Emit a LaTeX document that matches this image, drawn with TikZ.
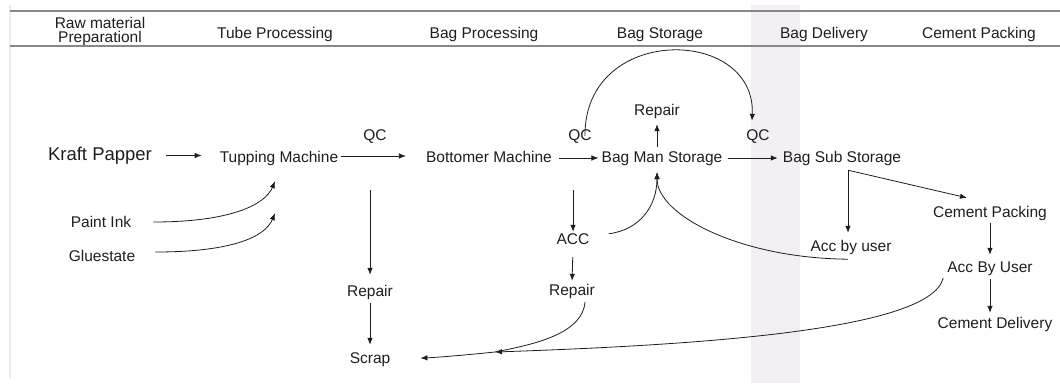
\documentclass[tikz,border=0pt]{standalone}
\usepackage{fontspec}
\setmainfont{Liberation Sans}
\usetikzlibrary{arrows.meta,calc}
\definecolor{bandpink}{RGB}{244,239,244}
\definecolor{rulegray}{RGB}{136,136,136}
\definecolor{edgegray}{RGB}{236,236,236}
\definecolor{ink}{RGB}{30,30,30}
\begin{document}
\begin{tikzpicture}[x=1pt,y=-1pt,
  lbl/.style={inner sep=0pt,anchor=base,text=ink,font=\fontsize{15.5}{18}\selectfont},
  big/.style={inner sep=0pt,anchor=base,text=ink,font=\fontsize{18.5}{22}\selectfont},
  arr/.style={draw=ink,line width=0.8pt,-{Latex[length=7pt,width=5.5pt]}},
  hrule/.style={draw=rulegray,line width=1.4pt}]
\useasboundingbox (0,0) rectangle (1060,383);
% background band and edges
\fill[bandpink] (751,5) rectangle (800,383);
\draw[edgegray,line width=1.4pt] (10,5) -- (10,378);
\draw[hrule] (10,11) -- (1060,11);
\draw[hrule] (10,46) -- (1060,46);
% header
\node[lbl,align=center,anchor=north,font=\fontsize{15.5}{14}\selectfont] (h1) at (100,17) {Raw material\\Preparationl};
\node[lbl] (h2) at (275,38) {Tube Processing};
\node[lbl] (h3) at (484,38) {Bag Processing};
\node[lbl] (h4) at (660,38) {Bag Storage};
\node[lbl] (h5) at (824,38) {Bag Delivery};
\node[lbl] (h6) at (979,38) {Cement Packing};
% nodes
\tikzset{lbl/.append style={text height=11pt,text depth=3pt}}
\node[big,text height=13pt,text depth=4pt] (kp) at (100,160) {Kraft Papper};
\node[lbl] (tm) at (279,162) {Tupping Machine};
\node[lbl] (qc1) at (375,140) {QC};
\node[lbl] (bm) at (489,162) {Bottomer Machine};
\node[lbl] (qc2) at (580,140) {QC};
\node[lbl] (bms) at (662,162) {Bag Man Storage};
\node[lbl] (rep0) at (657,115) {Repair};
\node[lbl] (qc3) at (758,140) {QC};
\node[lbl] (bss) at (842,162) {Bag Sub Storage};
\node[lbl] (pi) at (101,227) {Paint Ink};
\node[lbl] (gl) at (102,261) {Gluestate};
\node[lbl] (acc) at (573,244) {ACC};
\node[lbl] (rep1) at (370,296) {Repair};
\node[lbl] (rep2) at (572,295) {Repair};
\node[lbl] (scrap) at (370,363) {Scrap};
\node[lbl] (accu1) at (851,251) {Acc by user};
\node[lbl] (cp) at (990,217) {Cement Packing};
\node[lbl] (accu2) at (990,272) {Acc By User};
\node[lbl] (cd) at (995,328) {Cement Delivery};
% attachment points
\coordinate (tmin1) at ($(tm.south)+(-4,16)$);
\coordinate (tmin2) at ($(tm.south)+(-4,48)$);
\coordinate (bmsin) at ($(bms.south)+(-5,7)$);
\coordinate (bsout) at ($(bss.south)+(6,5)$);
\coordinate (j) at (495,352);
% main row
\draw[arr,shorten <=14pt,shorten >=18pt] (kp.east) -- (kp.east -| tm.west);
\draw[arr,shorten <=3pt,shorten >=20pt] ($(tm.east)+(0,-2)$) -- ($(tm.east -| bm.west)+(0,-2)$);
\draw[arr,shorten <=7pt,shorten >=3pt] (bm.east) -- (bms.west);
\draw[arr,shorten <=5pt,shorten >=5pt] (bms.east) -- (bss.west);
\draw[arr,shorten <=4pt,shorten >=6pt] (rep0.south |- bms.north) -- (rep0.south);
% arc QC -> QC
\draw[arr] ($(qc2.north)+(5,7)$) .. controls (584,24) and (756,26) .. ($(qc3.north)+(-6,-8)$);
% inputs
\draw[arr] ($(pi.east)+(22,-1)$) .. controls +(76,0) and +(-10,24) .. (tmin1);
\draw[arr] ($(gl.east)+(20,-5)$) .. controls +(76,0) and +(-10,24) .. (tmin2);
% downward branches
\draw[arr,shorten <=25pt,shorten >=10pt] (rep1.north |- tm.south) -- (rep1.north);
\draw[arr,shorten <=4pt,shorten >=7pt] (rep1.south) -- (scrap.north);
\draw[arr,shorten <=25pt,shorten >=1pt] (acc.north |- bm.south) -- (acc.north);
\draw[arr,shorten <=10pt,shorten >=3pt] (acc.south) -- (rep2.north);
% returns to Bag Man Storage
\draw[arr] ($(acc.north east)+(19,1)$) .. controls +(32,-4) and +(0,33) .. (bmsin);
\draw[arr] ($(accu1.south)+(-3,5)$) .. controls +(-108,-1) and +(0,43) .. (bmsin);
% bag sub storage branches
\draw[arr,shorten >=7pt] (bsout) -- (bsout |- accu1.north);
\draw[arr] (bsout) -- ($(cp.north)+(-23,-8)$);
\draw[arr,shorten <=3pt,shorten >=6pt] (cp.south) -- (cp.south |- accu2.north);
\draw[arr,shorten <=4pt,shorten >=4pt] (accu2.south) -- (accu2.south |- cd.north);
% to scrap
\draw[arr] ($(accu2.south west)+(-4,3)$) .. controls +(-13,52) and +(205,-7) .. (j);
\draw[arr,shorten >=30pt] ($(rep2.south)+(13,4)$) .. controls +(-3,33) and +(35,-7) .. (j) to[bend left=2] (scrap.east);
\end{tikzpicture}
\end{document}
